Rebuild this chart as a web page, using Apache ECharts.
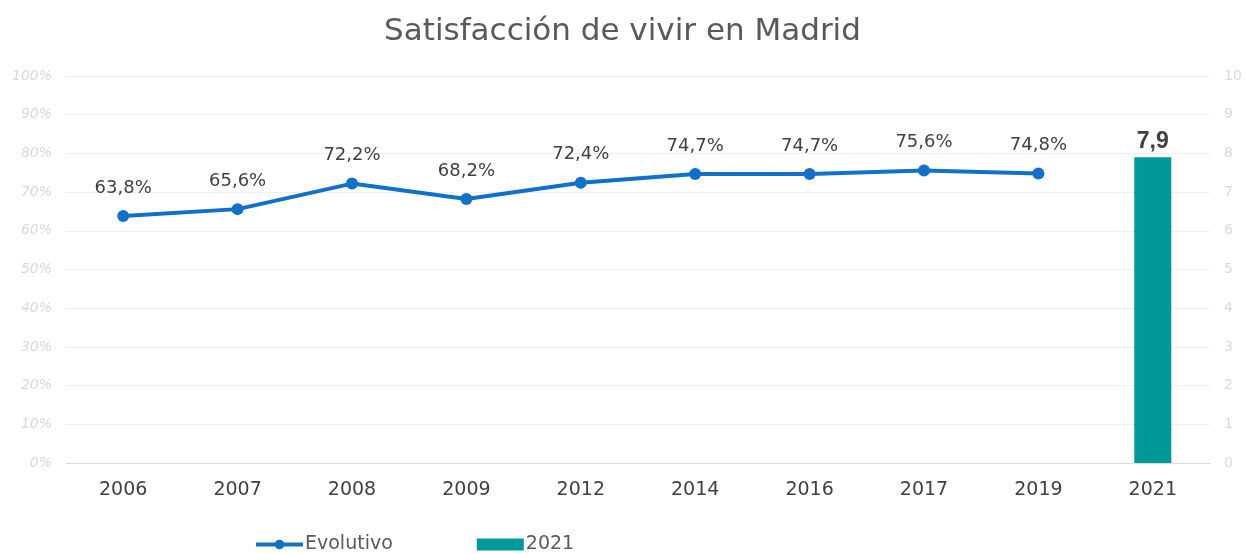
<!DOCTYPE html>
<html><head><meta charset="utf-8">
<script src="https://cdn.jsdelivr.net/npm/echarts@6/dist/echarts.min.js"></script>
<style>html,body{margin:0;padding:0;background:#fff}#c{width:1245px;height:554px}</style>
</head><body><div id="c"></div>
<script>
const categories = ['2006','2007','2008','2009','2012','2014','2016','2017','2019','2021'];
const evolutivo = [63.8, 65.6, 72.2, 68.2, 72.4, 74.7, 74.7, 75.6, 74.8, null];
const valor2021 = [null, null, null, null, null, null, null, null, null, 7.9];

const F = 'DejaVu Sans';
const chart = echarts.init(document.getElementById('c'));
const fmt = v => String(v).replace('.', ',');
chart.setOption({
  animation: false,
  title: {text: 'Satisfacción de vivir en Madrid', left: 'center', top: 11,
    textStyle: {fontFamily: F, fontWeight: 'normal', fontSize: 31, color: '#595959'}},
  grid: {left: 66, right: 35, top: 76, bottom: 91},
  legend: {top: 530, left: 249, itemGap: 84, itemWidth: 47, itemHeight: 12,
    textStyle: {fontFamily: F, fontSize: 19, color: '#595959', padding: [0,0,0,-3]},
    data: [
      {name: 'Evolutivo', lineStyle: {width: 4}},
      {name: '2021', icon: 'rect'}
    ]},
  xAxis: {type: 'category', data: categories,
    axisLine: {lineStyle: {color: '#d9d9d9'}}, axisTick: {show: false},
    axisLabel: {fontFamily: F, fontSize: 19, color: '#404040', margin: 18}},
  yAxis: [
    {type: 'value', min: 0, max: 100, interval: 10,
      axisLabel: {formatter: v => v + '%', fontStyle: 'italic', fontFamily: F, fontSize: 14, color: '#d9d9d9', margin: 14},
      axisTick: {show: false},
      splitLine: {lineStyle: {color: '#eeeeee'}}, axisLine: {show: false}},
    {type: 'value', min: 0, max: 10, interval: 1,
      axisLabel: {fontFamily: F, fontSize: 14, color: '#d9d9d9', margin: 14},
      splitLine: {show: false}, axisLine: {show: false}, axisTick: {show: false}}
  ],
  series: [
    {name: 'Evolutivo', type: 'line', yAxisIndex: 0, data: evolutivo,
      symbol: 'circle', symbolSize: 12, connectNulls: false,
      lineStyle: {color: '#1170c8', width: 4}, itemStyle: {color: '#1170c8'},
      label: {show: true, position: 'top', distance: 13, formatter: p => fmt(p.value) + '%',
        fontFamily: F, fontSize: 18, color: '#404040'}},
    {name: '2021', type: 'bar', yAxisIndex: 1, data: valor2021, barWidth: 37,
      itemStyle: {color: '#009999'},
      label: {show: true, position: 'top', formatter: p => fmt(p.value),
        fontFamily: 'Liberation Sans', fontWeight: 'bold', fontSize: 23, color: '#404040', distance: 4}}
  ]
});
</script></body></html>
